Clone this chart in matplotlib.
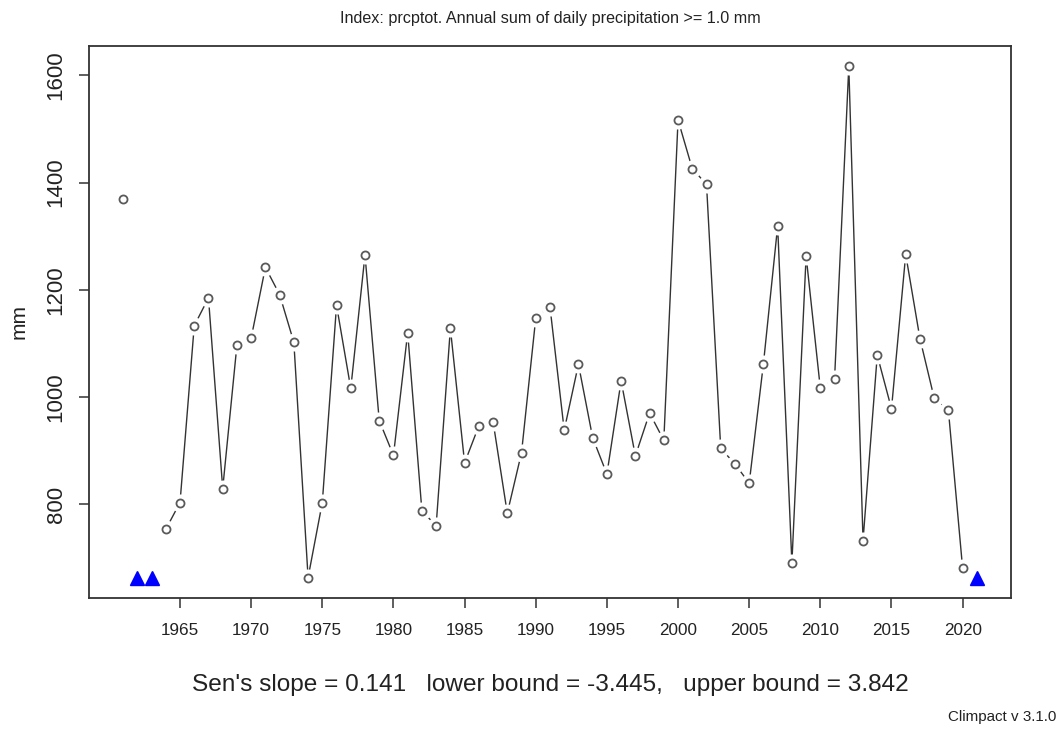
import numpy as np
import matplotlib
matplotlib.use("Agg")
from matplotlib import pyplot as plt

plt.rcParams['font.family'] = ['Liberation Sans', 'DejaVu Sans']

years = list(range(1961, 2022))
prcptot = [1370, None, None, 753, 803, 1133, 1185, 829, 1097, 1110,
           1242, 1191, 1102, 663, 803, 1171, 1016, 1265, 956, 891,
           1120, 787, 760, 1128, 877, 946, 954, 783, 896, 1147,
           1168, 938, 1061, 924, 856, 1030, 890, 970, 919, 1517,
           1426, 1397, 904, 875, 839, 1062, 1319, 690, 1263, 1016,
           1034, 1617, 732, 1078, 978, 1266, 1109, 998, 975, 680,
           None]
xticks = list(range(1965, 2021, 5))
yticks = [800, 1000, 1200, 1400, 1600]

title = "Index: prcptot. Annual sum of daily precipitation >= 1.0 mm"
slope_text = "Sen's slope = 0.141   lower bound = -3.445,   upper bound = 3.842"
credit = "Climpact v 3.1.0"

x = np.array(years, dtype=float)
y = np.array([np.nan if v is None else v for v in prcptot], dtype=float)
missing = np.isnan(y)

fig = plt.figure(figsize=(10.64, 7.29), dpi=100)
ax = fig.add_axes([0.0836, 0.1797, 0.8666, 0.7576])

# R type="b": line with gaps around the points
ax.plot(x, y, color='#333333', lw=1.0, zorder=1)
ax.plot(x, y, ls='none', marker='o', ms=13, mfc='white', mec='none', zorder=2)
ax.plot(x, y, ls='none', marker='o', ms=5.8, mfc='white', mec='#5a5a5a',
        mew=1.3, zorder=3)

# missing years
ax.plot(x[missing], np.full(missing.sum(), np.nanmin(y)), ls='none',
        marker='^', ms=10, color='#0000ff', zorder=4)

ax.set_xlim(1958.6, 2023.4)
ax.set_ylim(624.8, 1655.6)
ax.set_xticks(xticks)
ax.set_yticks(yticks)
ax.tick_params(axis='x', direction='out', length=7, width=1.1, color='#333333',
               labelsize=12.3, pad=11, labelcolor='#222222')
ax.tick_params(axis='y', direction='out', length=7, width=1.1, color='#333333',
               labelsize=16, pad=9, labelcolor='#222222', labelrotation=90)
for lab in ax.get_yticklabels():
    lab.set_verticalalignment('center')
for s in ax.spines.values():
    s.set_linewidth(1.3)
    s.set_color('#333333')

ax.set_ylabel('mm', fontsize=15, labelpad=12, color='#222222')
fig.text(0.517, 0.974, title, ha='center', va='center', fontsize=11.6,
         color='#222222')
fig.text(0.517, 0.06, slope_text, ha='center', va='center', fontsize=17.6,
         color='#222222')
fig.text(0.993, 0.016, credit, ha='right', va='center', fontsize=10.9,
         color='#222222')

fig.savefig('out.png', dpi=100)
